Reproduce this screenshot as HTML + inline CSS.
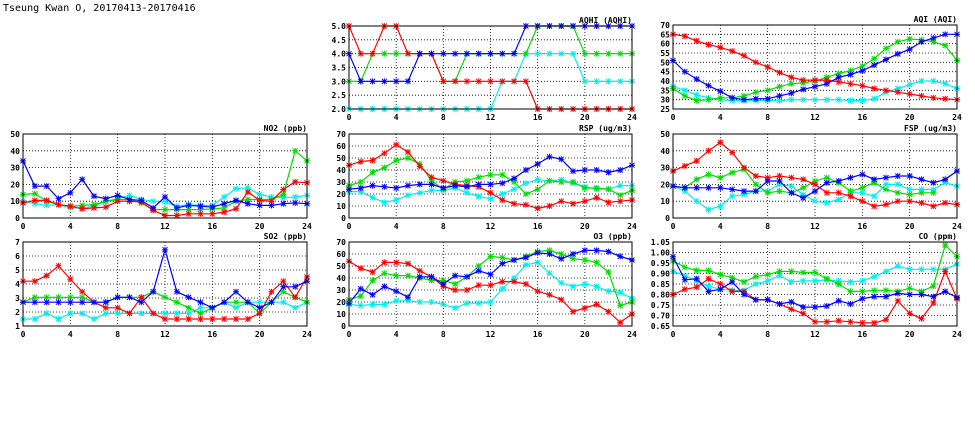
<!DOCTYPE html><html><head><meta charset="utf-8"><style>body{margin:0;background:#fff}svg{display:block}text{font-family:"DejaVu Sans Mono","Liberation Mono",monospace;font-weight:bold;font-size:8px;fill:#000}</style></head><body>
<svg id="s" width="975" height="447" xmlns="http://www.w3.org/2000/svg"><rect width="975" height="447" fill="#fff"/>
<text x="3" y="11" style="font-size:10px;font-weight:normal">Tseung Kwan O, 20170413-20170416</text></svg>
<script>
const S=document.getElementById('s');let h='';
const C={r:'#ff0000',g:'#00dd00',b:'#0000ff',c:'#00eeee'};
function panel(x0,x1,yt,yb,lo,hi,step,dec,title,data){
 const X=i=>x0+(x1-x0)*i/24,Y=v=>yb-(yb-yt)*(v-lo)/(hi-lo);
 for(let v=lo;v<=hi+1e-9;v+=step){const y=Y(v);h+=`<line x1="${x0}" x2="${x1}" y1="${y}" y2="${y}" stroke="#000" stroke-dasharray="1,2" stroke-width="0.8"/>`;
  h+=`<text x="${x0-3}" y="${y+3}" text-anchor="end">${v.toFixed(dec)}</text>`;}
 for(let i=0;i<=24;i+=4){const x=X(i);h+=`<line x1="${x}" x2="${x}" y1="${yt}" y2="${yb}" stroke="#000" stroke-dasharray="1,2" stroke-width="0.8"/><text x="${x}" y="${yb+11}" text-anchor="middle">${i}</text>`;}
 h+=`<text x="${x1}" y="${yt-3}" text-anchor="end">${title}</text>`;
 for(const k of ['c','g','r','b']){const d=data[k];let p='';let m='';
  d.forEach((v,i)=>{if(v==null)return;const x=X(i),y=Y(v);p+=(p?'L':'M')+x.toFixed(1)+','+y.toFixed(1);
   m+=`M${x-2.5},${y-2.5}L${x+2.5},${y+2.5}M${x-2.5},${y+2.5}L${x+2.5},${y-2.5}M${x},${y-3}L${x},${y+3}M${x-3},${y}L${x+3},${y}`;});
  h+=`<path d="${p}" fill="none" stroke="${C[k]}" stroke-width="1.2"/><path d="${m}" stroke="${C[k]}" stroke-width="1"/>`;}
 h+=`<rect x="${x0}" y="${yt}" width="${x1-x0}" height="${yb-yt}" fill="none" stroke="#000" stroke-width="1"/>`;
}
const L=[23,307],M=[349,632],R=[673,957],T=[26,109],Mi=[134,218],B=[242,326];
panel(...M,...T,2,5,.5,1,'AQHI (AQHI)',{
r:[5,4,4,5,5,4,4,4,3,3,3,3,3,3,3,3,2,2,2,2,2,2,2,2,2],
g:[3,3,4,4,4,4,4,4,3,3,4,4,4,4,4,4,5,5,5,5,4,4,4,4,4],
b:[4,3,3,3,3,3,4,4,4,4,4,4,4,4,4,5,5,5,5,5,5,5,5,5,5],
c:[2,2,2,2,2,2,2,2,2,2,2,2,2,3,3,4,4,4,4,4,3,3,3,3,3]});
panel(...R,25,109,25,70,5,0,'AQI (AQI)',{
r:[65,64,61.5,59.5,58,56,53.5,50,47.5,44.5,42,40.5,40.5,40.5,39.5,38.5,37.5,36,35,34,33,32,31,30.5,30],
g:[36,32,29.5,30,31,31,32,34,35,37,38.5,39,40,42,44,45.5,48,52,57.5,61,62.5,62,61,59,51],
b:[51,45,41,37.5,34.5,31,30,30.5,30.5,32,33.5,35.5,37,38.5,42,43.5,45.5,48.5,51.5,54.5,57,61,63,65,65],
c:[37,35,32.5,31,30,29.5,29.5,29.5,29.5,29.5,30,30,30,30,30,29.5,29.5,30.5,34,36,38,40,40,38.5,36]});
panel(...L,...Mi,0,50,10,0,'NO2 (ppb)',{
b:[34,19,19,11.5,15,23,13,11.5,13.5,11,10.5,6,12.5,6,7.5,7,6.5,8.5,10.5,8.5,7.5,7.5,8.5,9,8.5],
g:[14,14.5,10,8,7,7.5,8,10,11,11,9,5,5,5,5,5,5.5,6,10,11,11,11,14,40,34],
r:[9,10.5,10.5,8,7,5.5,6,6.5,10,10,9.5,4.5,1.5,1.5,2.5,2.5,2.5,3.5,5.5,15.5,10.5,10,17,21.5,21],
c:[10,8.5,7.5,8,6,6,7,10,11.5,13.5,11,10,9.5,7,8,7.5,7.5,12.5,17.5,18,14,12.5,12,12.5,13.5]});
panel(...L,...B,1,7,1,0,'SO2 (ppb)',{
r:[4.2,4.2,4.6,5.3,4.35,3.45,2.7,2.3,2.3,1.9,3.05,1.9,1.5,1.5,1.5,1.5,1.5,1.5,1.5,1.5,1.9,3.45,4.2,3.05,4.5],
b:[2.7,2.7,2.7,2.7,2.7,2.7,2.7,2.7,3.05,3.05,2.7,3.45,6.45,3.45,3.05,2.7,2.3,2.7,3.45,2.7,2.3,2.7,3.8,3.8,4.2],
g:[2.7,3.05,3.05,3.05,3.05,3.05,2.7,2.7,3.05,3.05,3.05,3.45,3.05,2.7,2.3,1.9,2.3,2.7,2.7,2.7,1.9,2.7,3.45,3.05,2.7],
c:[1.5,1.5,1.9,1.5,1.9,1.9,1.5,1.9,1.9,1.9,1.9,1.9,1.9,1.9,1.9,2.3,2.3,2.7,2.3,2.7,2.7,2.7,2.7,2.3,2.7]});
panel(...M,...Mi,0,70,10,0,'RSP (ug/m3)',{
r:[44,47,48,54,61,55,43,34,31,28,27,26,21,15,12,11,8,10,14,12,14,17,13,14,15],
g:[27,30,38,42,48,50,45,31,24,30,31,34,36,36,30,20,24,31,30,30,25,25,24,19,23],
b:[24,25,27,26,25,27,28,28,25,27,26,28,28,29,33,40,45,51,49,39,40,40,38,40,44],
c:[22,22,17,13,15,19,21,23,23,25,21,18,16,20,24,29,32,31,32,29,26,24,24,27,27]});
panel(...M,...B,0,70,10,0,'O3 (ppb)',{
r:[54,48,45,53,53,52,46,41,33,30,30,34,34,37,37,35,29,26,22,12,15,18,12,3,10],
g:[22,25,38,44,42,42,40,38,38,35,41,50,58,57,55,58,62,63,60,56,55,53,45,17,20],
b:[19,31,26,33,29,24,41,41,35,42,41,46,43,52,55,57,61,60,56,60,63,63,62,58,55],
c:[18,17,18,18,21,21,20,20,18,15,19,19,20,31,40,51,53,44,36,33,35,33,29,28,23]});
panel(...R,...Mi,0,50,10,0,'FSP (ug/m3)',{
r:[28,31,34,40,45,39,30,25,24,25,24,23,20,15,15,13,10,7,8,10,10,9,7,9,8],
g:[19,18,23,26,24,27,29,20,15,16,15,18,22,24,21,16,18,21,17,15,14,15,15,null,null],
b:[19,18,18,18,18,17,16,16,22,22,15,12,16,21,22,24,26,23,24,25,25,23,21,23,28],
c:[19,16,10,5,7,13,14,16,16,20,19,14,10,9,11,15,15,13,20,20,17,17,17,21,19]});
panel(...R,...B,.65,1.05,.05,2,'CO (ppm)',{
r:[.80,.825,.835,.875,.85,.815,.815,.775,.775,.755,.73,.71,.67,.67,.675,.67,.665,.665,.68,.77,.71,.685,.76,.91,.78],
g:[.96,.93,.915,.915,.895,.88,.86,.885,.895,.91,.91,.905,.905,.875,.85,.815,.815,.82,.82,.815,.83,.815,.84,1.035,.98],
b:[.98,.87,.875,.815,.825,.86,.80,.775,.775,.755,.765,.74,.74,.745,.77,.755,.78,.79,.79,.805,.80,.80,.79,.815,.785],
c:[.91,.89,.865,.84,.825,.82,.82,.85,.865,.89,.86,.865,.865,.87,.865,.86,.865,.885,.91,.935,.92,.92,.92,.92,.945]});
S.insertAdjacentHTML('beforeend',h);
</script></body></html>
